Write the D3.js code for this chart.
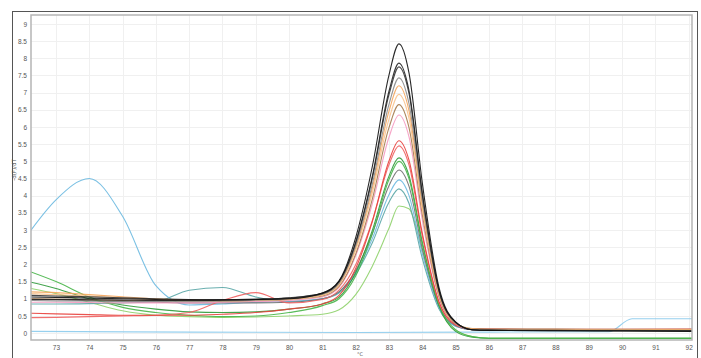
<!DOCTYPE html>
<html>
<head>
<meta charset="utf-8">
<script src="https://cdn.jsdelivr.net/npm/d3@7"></script>
<style>
    body { margin: 0; background: #fff; }
    svg { display: block; font-family: "DejaVu Sans", Arial, sans-serif; }
</style>
</head>
<body>
<div id="chart"></div>
<script>
"use strict";

var temps = [72.25, 73, 74, 75, 76, 77, 78, 79, 80, 81, 81.5, 82, 82.5, 83, 83.3, 83.6, 84, 84.5, 85, 85.5, 86, 88, 90, 92.1];

// -dF/dT values per well, same order as temps
var black1 = [1.05, 1.04, 1.02, 1.0, 0.98, 0.97, 0.97, 0.98, 1.0, 1.17, 1.52, 2.78, 4.85, 7.51, 8.42, 7.58, 4.38, 1.34, 0.33, 0.1, 0.08, 0.07, 0.06, 0.05];
var black2 = [0.98, 0.98, 0.97, 0.96, 0.95, 0.95, 0.96, 0.98, 1.02, 1.15, 1.5, 2.65, 4.57, 7.04, 7.86, 7.07, 4.09, 1.26, 0.32, 0.1, 0.08, 0.07, 0.07, 0.06];
var black3 = [1.1, 1.08, 1.06, 1.03, 1.0, 0.98, 0.97, 0.99, 1.03, 1.17, 1.5, 2.62, 4.51, 6.94, 7.75, 6.98, 4.03, 1.24, 0.31, 0.1, 0.09, 0.08, 0.07, 0.07];
var gray = [0.95, 0.94, 0.93, 0.92, 0.92, 0.93, 0.94, 0.96, 1.0, 1.13, 1.45, 2.54, 4.34, 6.66, 7.43, 6.69, 3.86, 1.2, 0.3, 0.1, 0.09, 0.08, 0.08, 0.07];
var orange = [1.2, 1.18, 1.12, 1.06, 1.0, 0.97, 0.95, 0.96, 1.0, 1.12, 1.43, 2.49, 4.22, 6.46, 7.2, 6.48, 3.74, 1.16, 0.3, 0.12, 0.1, 0.1, 0.09, 0.09];
var peach = [1.15, 1.12, 1.08, 1.02, 0.98, 0.95, 0.94, 0.95, 0.98, 1.1, 1.4, 2.41, 4.08, 6.23, 6.95, 6.26, 3.61, 1.12, 0.29, 0.12, 0.1, 0.1, 0.1, 0.1];
var brown = [1.0, 0.99, 0.97, 0.95, 0.94, 0.93, 0.93, 0.95, 0.98, 1.08, 1.36, 2.3, 3.9, 5.98, 6.65, 5.99, 3.46, 1.08, 0.28, 0.13, 0.12, 0.12, 0.11, 0.11];
var pink = [0.9, 0.9, 0.89, 0.88, 0.88, 0.88, 0.9, 0.92, 0.95, 1.05, 1.33, 2.25, 3.76, 5.7, 6.35, 5.72, 3.3, 1.03, 0.27, 0.1, 0.1, 0.09, 0.09, 0.09];
var red = [0.58, 0.56, 0.54, 0.52, 0.52, 0.52, 0.55, 0.6, 0.7, 0.85, 1.1, 1.88, 3.25, 5.01, 5.6, 5.04, 2.91, 0.92, 0.25, 0.12, 0.12, 0.11, 0.11, 0.12];
var red2 = [0.45, 0.46, 0.48, 0.5, 0.52, 0.6, 0.95, 1.18, 0.88, 0.98, 1.25, 1.99, 3.27, 4.9, 5.45, 4.9, 2.83, 0.9, 0.24, 0.12, 0.11, 0.1, 0.1, 0.1];
var green = [1.78, 1.5, 1.05, 0.75, 0.6, 0.52, 0.48, 0.5, 0.6, 0.8, 1.0, 1.66, 2.89, 4.47, 5.0, 4.5, 2.6, 0.83, 0.1, -0.1, -0.15, -0.15, -0.15, -0.15];
var green2 = [1.48, 1.3, 1.0, 0.82, 0.7, 0.62, 0.6, 0.62, 0.7, 0.85, 1.05, 1.76, 2.99, 4.57, 5.1, 4.59, 2.65, 0.8, 0.05, -0.12, -0.15, -0.15, -0.15, -0.15];
var darkgray = [1.0, 0.98, 0.95, 0.92, 0.9, 0.88, 0.88, 0.88, 0.9, 1.0, 1.2, 1.82, 2.9, 4.29, 4.75, 4.28, 2.47, 0.8, 0.22, 0.1, 0.09, 0.08, 0.08, 0.08];
var lightblue = [3.0, 3.88, 4.5, 3.4, 1.38, 0.82, 0.85, 0.9, 0.92, 1.0, 1.2, 1.75, 2.75, 4.03, 4.46, 4.01, 2.32, 0.75, 0.2, 0.1, 0.09, 0.08, 0.08, 0.08];
var teal = [0.85, 0.85, 0.86, 0.88, 0.92, 1.25, 1.33, 1.05, 0.92, 1.0, 1.17, 1.71, 2.63, 3.81, 4.2, 3.78, 2.18, 0.71, 0.2, 0.1, 0.09, 0.09, 0.08, 0.08];
var lightgreen = [1.3, 1.15, 0.9, 0.65, 0.52, 0.48, 0.46, 0.47, 0.5, 0.55, 0.68, 1.12, 1.95, 3.05, 3.7, 3.62, 2.4, 0.75, 0.08, -0.1, -0.15, -0.15, -0.15, -0.15];

// no template control, has its own temperature points
var ntcTemps = [72.25, 77, 82, 86, 89.6, 90.3, 92.1];
var ntc = [0.05, 0.03, 0.02, 0.03, 0.04, 0.42, 0.42];

// axis ticks
var xTicks = [73, 74, 75, 76, 77, 78, 79, 80, 81, 82, 83, 84, 85, 86, 87, 88, 89, 90, 91, 92];
var yTicks = [0, 0.5, 1, 1.5, 2, 2.5, 3, 3.5, 4, 4.5, 5, 5.5, 6, 6.5, 7, 7.5, 8, 8.5, 9];

// draw order: back to front
var series = [
    { t: ntcTemps, v: ntc, color: "#8ccbec" },
    { t: temps, v: lightgreen, color: "#8fd16b" },
    { t: temps, v: teal, color: "#5aa6a6" },
    { t: temps, v: lightblue, color: "#6bb9e0" },
    { t: temps, v: darkgray, color: "#6e6e6e" },
    { t: temps, v: green2, color: "#2f9a3a" },
    { t: temps, v: green, color: "#47b548" },
    { t: temps, v: red2, color: "#f06060" },
    { t: temps, v: red, color: "#e8403c" },
    { t: temps, v: pink, color: "#f59ac0" },
    { t: temps, v: brown, color: "#a47a4c" },
    { t: temps, v: peach, color: "#f8c28c" },
    { t: temps, v: orange, color: "#f4a55c" },
    { t: temps, v: gray, color: "#8a8a8a" },
    { t: temps, v: black3, color: "#333333" },
    { t: temps, v: black2, color: "#222222" },
    { t: temps, v: black1, color: "#111111" }
];

var width = 701,
    height = 358;

var plot = { left: 31, right: 692, top: 15, bottom: 340 };

var svg = d3.select("#chart").append("svg")
    .attr("width", width)
    .attr("height", height);

svg.append("rect")
    .attr("width", width)
    .attr("height", height)
    .attr("fill", "#fff");

//outer box of the figure (runs off the bottom)
svg.append("rect")
    .attr("x", 12.5)
    .attr("y", 11.5)
    .attr("width", 685)
    .attr("height", 370)
    .attr("fill", "none")
    .attr("stroke", "#555")
    .attr("stroke-width", 1);

var x = d3.scaleLinear()
    .domain([72.25, 92.1])
    .range([plot.left, plot.right]);

var y = d3.scaleLinear()
    .domain([-0.2, 9.26])
    .range([plot.bottom, plot.top]);

//grid
svg.append("g")
    .attr("class", "grid")
    .selectAll("line.h")
    .data(yTicks)
    .enter()
    .append("line")
    .attr("x1", plot.left)
    .attr("x2", plot.right)
    .attr("y1", function (d) { return Math.round(y(d)) + 0.5; })
    .attr("y2", function (d) { return Math.round(y(d)) + 0.5; })
    .attr("stroke", "#f0f0f0");

svg.append("g")
    .attr("class", "grid")
    .selectAll("line.v")
    .data(xTicks)
    .enter()
    .append("line")
    .attr("y1", plot.top)
    .attr("y2", plot.bottom)
    .attr("x1", function (d) { return Math.round(x(d)) + 0.5; })
    .attr("x2", function (d) { return Math.round(x(d)) + 0.5; })
    .attr("stroke", "#f0f0f0");

//clip so the curves stay inside the frame
svg.append("clipPath")
    .attr("id", "plot-clip")
    .append("rect")
    .attr("x", plot.left)
    .attr("y", plot.top)
    .attr("width", plot.right - plot.left)
    .attr("height", plot.bottom - plot.top);

var line = d3.line()
    .curve(d3.curveMonotoneX)
    .x(function (d) { return x(d[0]); })
    .y(function (d) { return y(d[1]); });

svg.append("g")
    .attr("class", "curves")
    .attr("clip-path", "url(#plot-clip)")
    .selectAll("path")
    .data(series)
    .enter()
    .append("path")
    .attr("d", function (s) { return line(d3.zip(s.t, s.v)); })
    .attr("fill", "none")
    .attr("stroke", function (s) { return s.color; })
    .attr("stroke-width", 1.1)
    .attr("stroke-opacity", 0.9);

//plot frame
svg.append("rect")
    .attr("x", plot.left)
    .attr("y", plot.top)
    .attr("width", plot.right - plot.left)
    .attr("height", plot.bottom - plot.top)
    .attr("fill", "none")
    .attr("stroke", "#b5b5b5")
    .attr("stroke-width", 1.5);

//axes, only labels (the frame is the axis line)
var xAxis = d3.axisBottom(x)
    .tickValues(xTicks)
    .tickSize(0)
    .tickPadding(5)
    .tickFormat(d3.format("d"));

var yAxis = d3.axisLeft(y)
    .tickValues(yTicks)
    .tickSize(0)
    .tickPadding(4)
    .tickFormat(function (d) { return d3.format("~g")(d); });

var gx = svg.append("g")
    .attr("transform", "translate(0," + plot.bottom + ")")
    .call(xAxis);

var gy = svg.append("g")
    .attr("transform", "translate(" + plot.left + ",0)")
    .call(yAxis);

[gx, gy].forEach(function (g) {
    g.select(".domain").remove();
    g.selectAll("text")
        .attr("fill", "#555")
        .style("font-size", "6.5px");
});

//axis titles
svg.append("text")
    .attr("transform", "translate(16,170) rotate(-90)")
    .attr("text-anchor", "middle")
    .attr("fill", "#555")
    .style("font-size", "5.5px")
    .text("-d(F)/dT");

svg.append("text")
    .attr("x", 360)
    .attr("y", 356)
    .attr("text-anchor", "middle")
    .attr("fill", "#555")
    .style("font-size", "5px")
    .text("°C");
</script>
</body>
</html>
